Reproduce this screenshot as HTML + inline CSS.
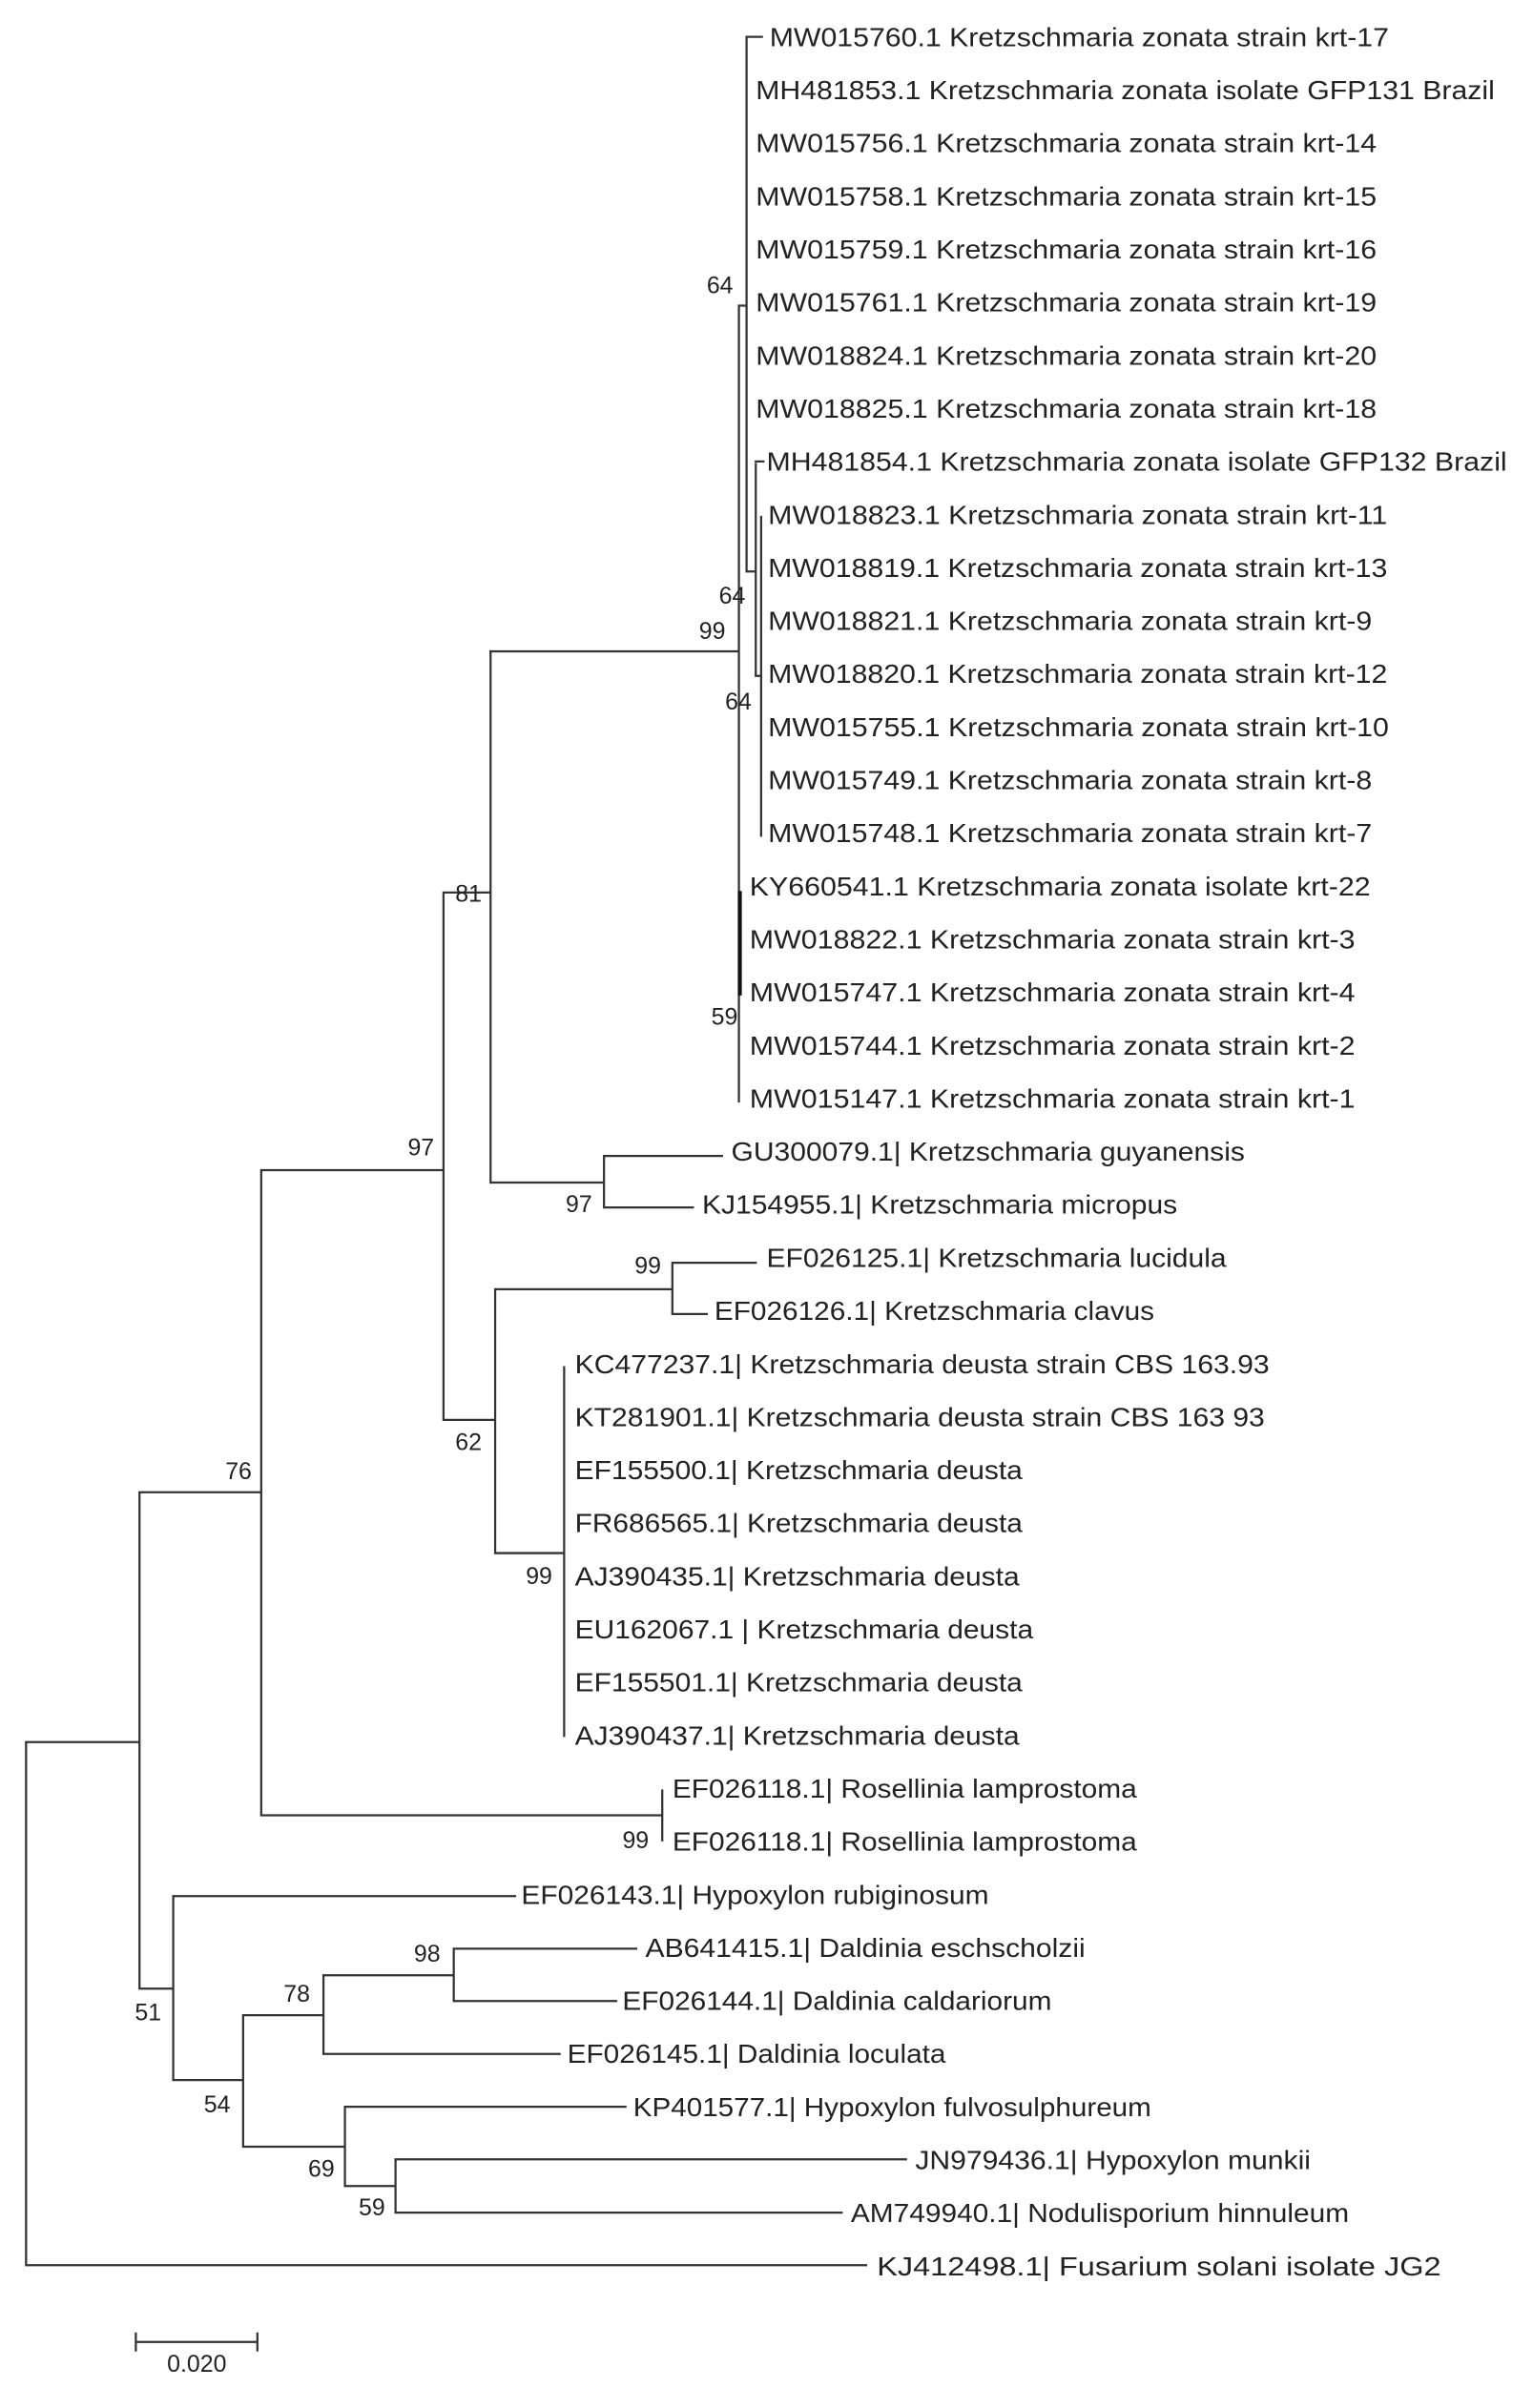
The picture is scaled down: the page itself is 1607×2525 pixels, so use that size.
<!DOCTYPE html>
<html><head><meta charset="utf-8"><style>
html,body{margin:0;padding:0;background:#fff;}
svg{display:block;}
text{font-family:"Liberation Sans",Arial,sans-serif;fill:#222;}
.l{font-size:17px;}
.b{font-size:15.5px;}
</style></head><body>
<svg width="1607" height="2525" viewBox="0 0 1000 1567.5" preserveAspectRatio="none" xmlns="http://www.w3.org/2000/svg">
<g stroke="#333" stroke-width="1.4" fill="none" stroke-linecap="square">
<path d="M488 24H497 M487 24V372 M482 199H487 M482 199V717 M320 424H482 M487 372H493 M493 302V440 M493 300.4H498 M493 440H496.5 M496.5 336.5V544"/>
<path d="M17 1134V1474.5 M17 1134H91 M17 1474.5H565 M91 971.4V1294.5 M91 971.4H170.4 M170.4 761.7V1181.7 M170.4 761.7H289.3 M289.3 581V924.3 M289.3 581H320 M320 424V769.8 M320 769.8H394 M394 752.5V786 M394 752.5H471 M394 786H452 M289.3 924.3H323 M323 839.2V1011 M323 839.2H438.6 M438.6 822V855.4 M438.6 822H493 M438.6 855.4H461 M323 1011H368 M368 890V1130 M170.4 1181.7H432 M432 1165.5V1198 M91 1294.5H113 M113 1234.3V1354 M113 1234.3H336 M113 1354H158.6 M158.6 1311.8V1397.4 M158.6 1311.8H211 M211 1285.8V1337 M211 1285.8H296 M296 1268.5V1302.6 M296 1268.5H415 M296 1302.6H402 M211 1337H365 M158.6 1397.4H225 M225 1371.4V1423 M225 1371.4H408 M225 1423H258 M258 1405.6V1440.3 M258 1405.6H591 M258 1440.3H549"/>
<path d="M88.6 1524.5H167.9 M88.6 1519V1530 M167.9 1519V1530"/>
</g>
<rect x="481.3" y="580" width="2.6" height="68" fill="#111"/>
<g class="l">
<text x="502" y="30" textLength="404" lengthAdjust="spacingAndGlyphs">MW015760.1 Kretzschmaria zonata strain krt-17</text>
<text x="493" y="64.6" textLength="482" lengthAdjust="spacingAndGlyphs">MH481853.1 Kretzschmaria zonata isolate GFP131 Brazil</text>
<text x="493" y="99.1" textLength="405" lengthAdjust="spacingAndGlyphs">MW015756.1 Kretzschmaria zonata strain krt-14</text>
<text x="493" y="133.7" textLength="405" lengthAdjust="spacingAndGlyphs">MW015758.1 Kretzschmaria zonata strain krt-15</text>
<text x="493" y="168.2" textLength="405" lengthAdjust="spacingAndGlyphs">MW015759.1 Kretzschmaria zonata strain krt-16</text>
<text x="493" y="202.8" textLength="405" lengthAdjust="spacingAndGlyphs">MW015761.1 Kretzschmaria zonata strain krt-19</text>
<text x="493" y="237.3" textLength="405" lengthAdjust="spacingAndGlyphs">MW018824.1 Kretzschmaria zonata strain krt-20</text>
<text x="493" y="271.9" textLength="405" lengthAdjust="spacingAndGlyphs">MW018825.1 Kretzschmaria zonata strain krt-18</text>
<text x="500" y="306.4" textLength="483" lengthAdjust="spacingAndGlyphs">MH481854.1 Kretzschmaria zonata isolate GFP132 Brazil</text>
<text x="501" y="341" textLength="404" lengthAdjust="spacingAndGlyphs">MW018823.1 Kretzschmaria zonata strain krt-11</text>
<text x="501" y="375.5" textLength="404" lengthAdjust="spacingAndGlyphs">MW018819.1 Kretzschmaria zonata strain krt-13</text>
<text x="501" y="410.1" textLength="394" lengthAdjust="spacingAndGlyphs">MW018821.1 Kretzschmaria zonata strain krt-9</text>
<text x="501" y="444.6" textLength="404" lengthAdjust="spacingAndGlyphs">MW018820.1 Kretzschmaria zonata strain krt-12</text>
<text x="501" y="479.2" textLength="405" lengthAdjust="spacingAndGlyphs">MW015755.1 Kretzschmaria zonata strain krt-10</text>
<text x="501" y="513.7" textLength="394" lengthAdjust="spacingAndGlyphs">MW015749.1 Kretzschmaria zonata strain krt-8</text>
<text x="501" y="548.3" textLength="394" lengthAdjust="spacingAndGlyphs">MW015748.1 Kretzschmaria zonata strain krt-7</text>
<text x="489" y="582.8" textLength="405" lengthAdjust="spacingAndGlyphs">KY660541.1 Kretzschmaria zonata isolate krt-22</text>
<text x="489" y="617.4" textLength="395" lengthAdjust="spacingAndGlyphs">MW018822.1 Kretzschmaria zonata strain krt-3</text>
<text x="489" y="651.9" textLength="395" lengthAdjust="spacingAndGlyphs">MW015747.1 Kretzschmaria zonata strain krt-4</text>
<text x="489" y="686.5" textLength="395" lengthAdjust="spacingAndGlyphs">MW015744.1 Kretzschmaria zonata strain krt-2</text>
<text x="489" y="721" textLength="395" lengthAdjust="spacingAndGlyphs">MW015147.1 Kretzschmaria zonata strain krt-1</text>
<text x="477" y="755.6" textLength="335" lengthAdjust="spacingAndGlyphs">GU300079.1| Kretzschmaria guyanensis</text>
<text x="458" y="790.1" textLength="310" lengthAdjust="spacingAndGlyphs">KJ154955.1| Kretzschmaria micropus</text>
<text x="500" y="824.7" textLength="300" lengthAdjust="spacingAndGlyphs">EF026125.1| Kretzschmaria lucidula</text>
<text x="466" y="859.2" textLength="287" lengthAdjust="spacingAndGlyphs">EF026126.1| Kretzschmaria clavus</text>
<text x="375" y="893.8" textLength="453" lengthAdjust="spacingAndGlyphs">KC477237.1| Kretzschmaria deusta strain CBS 163.93</text>
<text x="375" y="928.3" textLength="450" lengthAdjust="spacingAndGlyphs">KT281901.1| Kretzschmaria deusta strain CBS 163 93</text>
<text x="375" y="962.9" textLength="292" lengthAdjust="spacingAndGlyphs">EF155500.1| Kretzschmaria deusta</text>
<text x="375" y="997.4" textLength="292" lengthAdjust="spacingAndGlyphs">FR686565.1| Kretzschmaria deusta</text>
<text x="375" y="1032" textLength="290" lengthAdjust="spacingAndGlyphs">AJ390435.1| Kretzschmaria deusta</text>
<text x="375" y="1066.5" textLength="299" lengthAdjust="spacingAndGlyphs">EU162067.1 | Kretzschmaria deusta</text>
<text x="375" y="1101.1" textLength="292" lengthAdjust="spacingAndGlyphs">EF155501.1| Kretzschmaria deusta</text>
<text x="375" y="1135.6" textLength="290" lengthAdjust="spacingAndGlyphs">AJ390437.1| Kretzschmaria deusta</text>
<text x="438.6" y="1170.2" textLength="303" lengthAdjust="spacingAndGlyphs">EF026118.1| Rosellinia lamprostoma</text>
<text x="438.6" y="1204.7" textLength="303" lengthAdjust="spacingAndGlyphs">EF026118.1| Rosellinia lamprostoma</text>
<text x="340" y="1239.3" textLength="305" lengthAdjust="spacingAndGlyphs">EF026143.1| Hypoxylon rubiginosum</text>
<text x="421" y="1273.8" textLength="287" lengthAdjust="spacingAndGlyphs">AB641415.1| Daldinia eschscholzii</text>
<text x="406" y="1308.4" textLength="280" lengthAdjust="spacingAndGlyphs">EF026144.1| Daldinia caldariorum</text>
<text x="370" y="1342.9" textLength="247" lengthAdjust="spacingAndGlyphs">EF026145.1| Daldinia loculata</text>
<text x="413" y="1377.5" textLength="338" lengthAdjust="spacingAndGlyphs">KP401577.1| Hypoxylon fulvosulphureum</text>
<text x="597" y="1412" textLength="258" lengthAdjust="spacingAndGlyphs">JN979436.1| Hypoxylon munkii</text>
<text x="555" y="1446.6" textLength="325" lengthAdjust="spacingAndGlyphs">AM749940.1| Nodulisporium hinnuleum</text>
<text x="572" y="1481.1" textLength="368" lengthAdjust="spacingAndGlyphs">KJ412498.1| Fusarium solani isolate JG2</text>
</g>
<g class="b">
<text x="461" y="191">64</text>
<text x="469" y="393">64</text>
<text x="456" y="416">99</text>
<text x="473" y="462">64</text>
<text x="464" y="667">59</text>
<text x="297" y="587">81</text>
<text x="266" y="752">97</text>
<text x="369" y="789">97</text>
<text x="414" y="829">99</text>
<text x="297" y="944">62</text>
<text x="343" y="1031">99</text>
<text x="147" y="963">76</text>
<text x="406" y="1203">99</text>
<text x="270" y="1277">98</text>
<text x="185" y="1303">78</text>
<text x="88" y="1315">51</text>
<text x="133" y="1375">54</text>
<text x="201" y="1417">69</text>
<text x="234" y="1442">59</text>
<text x="109" y="1544">0.020</text>
</g>
</svg>
</body></html>
